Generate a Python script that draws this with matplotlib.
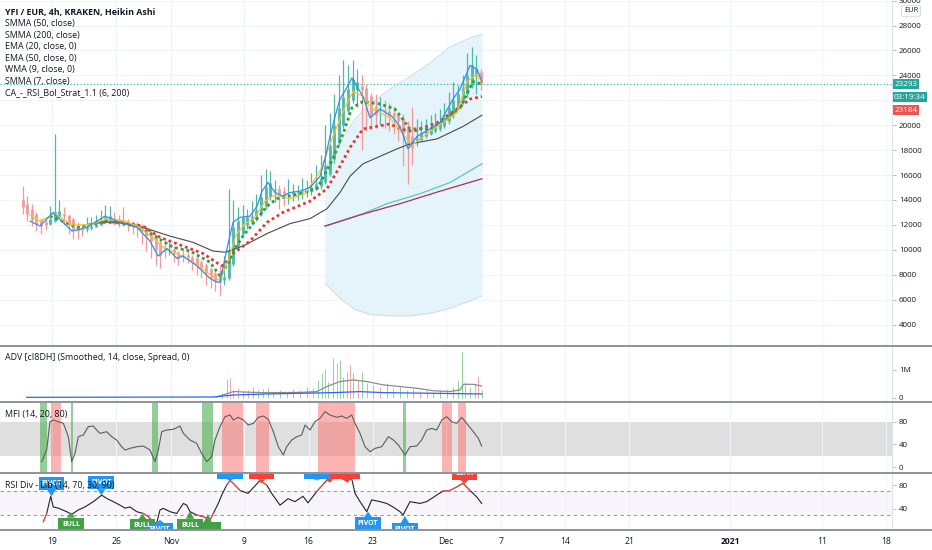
import numpy as np
import matplotlib
matplotlib.use("Agg")
import matplotlib.pyplot as plt
from matplotlib.patches import Rectangle, Polygon
from matplotlib.lines import Line2D

plt.rcParams['font.family'] = ['Open Sans', 'DejaVu Sans']

# ---------------- data (time = days since 19 Oct 2020) ----------------
date_ticks = [0, 7, 13, 21, 28, 35, 43, 49, 56, 63, 74, 84, 91]
date_labels = ["19", "26", "Nov", "9", "16", "23", "Dec", "7", "14", "21", "2021", "11", "18"]

# Heikin Ashi candles, 12h sampling starting 15 Oct 19:12
ha_open = [14000, 13700, 13300, 12850, 12500, 12200, 12100, 12300, 12650, 12900,
           12800, 12450, 12000, 11750, 11700, 11750, 11850, 12000, 12200, 12400,
           12550, 12500, 12400, 12350, 12200, 12050, 11900, 11700, 11400, 11050,
           10600, 10050, 10000, 10050, 9850, 9600, 9550, 9450, 9300, 9050,
           8800, 8450, 8100, 7800, 7600, 7700, 8850, 10300, 11300, 11950,
           12250, 12450, 12850, 13500, 14250, 14800, 14850, 14700, 14500, 14500,
           14550, 14600, 14650, 14700, 14850, 15100, 15450, 16100, 17250, 18600,
           20000, 21150, 22000, 22850, 23150, 23000, 22350, 21550, 21200, 21200,
           21150, 21000, 20850, 20550, 19950, 19150, 18700, 18850, 19100, 19300,
           19500, 19700, 19950, 20300, 20850, 21400, 21950, 22500, 23250, 24000,
           24250]
ha_close = [13400, 12900, 12400, 12100, 11900, 12000, 12500, 13000, 13100, 12700,
            12100, 11600, 11500, 11600, 11800, 11900, 12100, 12400, 12600, 12700,
            12500, 12300, 12300, 12100, 11900, 11800, 11500, 11100, 10700, 10100,
            9500, 9900, 10100, 9700, 9300, 9500, 9400, 9100, 8800, 8500,
            8100, 7700, 7500, 7400, 7800, 10000, 11800, 12300, 12600, 12600,
            12700, 13200, 14200, 15000, 15400, 14900, 14500, 14300, 14500, 14600,
            14600, 14700, 14800, 15000, 15300, 15800, 16800, 18400, 20000, 21400,
            22300, 22900, 23700, 23500, 22800, 21700, 20700, 20800, 21200, 21100,
            20900, 20700, 20300, 19400, 18300, 18200, 19000, 19400, 19500, 19700,
            19900, 20200, 20600, 21400, 22000, 22500, 23000, 24000, 24800, 24500,
            23300]
ha_high = [15100, 14300, 13700, 13000, 12500, 12500, 13500, 19300, 14000, 13400,
           12800, 12600, 12200, 12000, 12600, 12600, 12800, 13200, 13600, 13500,
           13000, 12800, 13400, 12500, 12300, 12200, 12100, 11900, 11600, 11200,
           10800, 10600, 10600, 10300, 9900, 10100, 9900, 9600, 9500, 9200,
           8900, 8600, 8300, 8800, 9500, 14900, 14000, 13400, 13600, 13300,
           13900, 14500, 16000, 16500, 16300, 15600, 15200, 15000, 15700, 15300,
           15200, 15800, 15600, 16200, 16800, 17600, 20000, 21000, 22500, 24000,
           25200, 24800, 25200, 24500, 24000, 23300, 22600, 22500, 22300, 22000,
           21800, 21500, 21000, 20900, 20300, 21500, 20500, 20300, 20500, 20800,
           21000, 21300, 21800, 22700, 23500, 23200, 24000, 25800, 26300, 25600,
           24500]
ha_low = [12900, 12300, 11900, 11500, 11300, 11600, 12000, 12200, 12600, 12000,
          11300, 10900, 10900, 11100, 11400, 11600, 11800, 12000, 12200, 12300,
          12000, 11800, 11900, 11500, 11300, 11000, 10500, 9900, 9300, 8800,
          8500, 9300, 9600, 9000, 8800, 9000, 8900, 8400, 8000, 7700,
          7200, 6900, 6700, 6400, 7200, 7600, 8700, 10200, 11200, 11700,
          12000, 12300, 12700, 13300, 14000, 13800, 13300, 13500, 13700, 13900,
          14000, 14100, 14200, 14400, 14800, 14900, 15300, 15900, 17000, 18400,
          19800, 20900, 21800, 21500, 18000, 19500, 19600, 19800, 20000, 19800,
          19500, 19300, 18700, 16700, 15300, 16800, 18300, 18800, 19000, 19200,
          19400, 19500, 19800, 20100, 20600, 21200, 21700, 22300, 23000, 22500,
          22800]

wma_t = [-2.40, -1.31, 0.11, 2.18, 3.82, 5.78, 7.42, 9.27, 10.69, 11.57, 12.55, 13.64, 14.29,
         15.82, 17.24, 18.00, 18.33, 19.09, 19.75, 20.51, 21.60, 22.37, 22.91, 23.57, 24.33,
         25.20, 25.97, 27.06, 28.15, 29.24, 29.79, 30.33, 30.88, 31.42, 32.08, 32.73, 33.93,
         34.70, 35.79, 37.10, 37.97, 38.84, 39.82, 41.24, 42.33, 43.75, 44.52, 45.61, 46.37, 46.91]
wma_v = [12300, 11900, 13000, 11500, 11800, 12700, 12200, 11800, 10700, 9500, 10100, 9300, 9500,
         8700, 7700, 7400, 7400, 10100, 12200, 12600, 12700, 13500, 14700, 15400, 14600,
         14300, 14600, 14700, 15000, 15900, 17300, 19100, 20700, 22100, 22900, 23800, 22300,
         20600, 21300, 20700, 19900, 18100, 19100, 19700, 20200, 22100, 22900, 24800, 24500, 23500]

smma7_t = [-2.40, -1.31, 0.33, 2.18, 4.15, 6.00, 7.96, 9.60, 11.24, 12.33, 13.97, 15.60, 17.24,
           18.33, 19.20, 20.08, 21.06, 22.15, 23.24, 24.33, 25.97, 27.60, 29.24, 30.55, 31.75,
           32.84, 33.93, 35.02, 36.88, 38.74, 39.29, 41.24, 44.19, 45.28, 46.37, 46.91]
smma7_v = [12800, 12300, 12900, 12000, 12000, 12500, 12300, 11800, 10800, 10100, 9600, 8900, 8000,
           7500, 9100, 11200, 12100, 12600, 13900, 14400, 14100, 14500, 16300, 18900, 21100,
           22700, 22300, 21300, 20600, 18900, 18400, 19500, 21000, 23500, 24100, 23400]

ema20_t = [-0.22, 2.73, 6.00, 9.27, 11.46, 13.20, 15.06, 17.24, 18.33, 19.20, 19.97, 20.84,
           22.15, 23.46, 24.55, 27.06, 28.91, 30.66, 31.75, 32.73, 33.93, 35.79, 37.42, 39.06,
           41.24, 43.10, 44.52, 45.94, 46.91]
ema20_v = [12700, 11800, 12300, 11900, 11000, 10200, 9900, 9000, 7900, 8900, 10100, 11100,
           12300, 13500, 14100, 14500, 14900, 17300, 19300, 21400, 21900, 21700, 21300, 19700,
           19700, 20500, 21400, 23500, 23300]

ema50_t = [4.91, 7.42, 9.93, 11.78, 14.29, 16.48, 18.11, 18.66, 19.75, 21.60, 23.46, 25.20,
           28.15, 30.01, 31.42, 32.51, 33.93, 36.88, 37.97, 39.39, 42.01, 44.19, 45.61, 46.91]
ema50_v = [12200, 12200, 11900, 11000, 10300, 9700, 8900, 8700, 9700, 10700, 12200, 13000,
           13900, 14900, 16700, 18200, 19700, 20100, 19700, 19500, 20200, 21300, 22100, 22300]

smma50_t = [4.91, 7.42, 9.93, 12.87, 15.38, 17.57, 18.88, 20.84, 23.46, 25.97, 28.15, 30.01,
            31.42, 32.51, 33.93, 37.64, 39.06, 42.01, 44.85, 46.91]
smma50_v = [12200, 12200, 11800, 11100, 10600, 9900, 9800, 10300, 11300, 12100, 12500, 13300,
            14600, 15900, 16900, 18100, 18500, 18900, 19900, 20800]

band_t = [29.79, 31.42, 33.06, 34.70, 36.88, 39.06, 41.24, 43.43, 45.61, 46.91]
band_upper = [16500, 18600, 20500, 21700, 22900, 23900, 25000, 26300, 27000, 27300]
band_lower = [7300, 6100, 5200, 4800, 4700, 4700, 4900, 5300, 5900, 6300]
basis_t = [29.79, 33.61, 37.97, 42.33, 46.91]
basis_v = [11900, 12800, 13700, 14700, 15700]
fast_t = [29.79, 33.61, 36.55, 40.15, 43.43, 46.91]
fast_v = [11900, 12800, 13700, 14500, 15400, 16900]

last_price = 23293

adv_t = [18.51, 19.06, 19.42, 19.79, 20.33, 20.88, 21.42, 21.97, 22.51, 23.06,
         23.60, 24.15, 24.88, 25.61, 26.33, 27.06, 27.79, 28.51, 29.06, 29.42,
         29.79, 30.15, 30.70, 31.06, 31.42, 31.79, 32.15, 32.52, 32.88, 33.43,
         33.79, 34.33, 35.06, 35.79, 36.52, 37.24, 37.97, 38.70, 39.42, 40.15,
         40.88, 41.61, 42.33, 43.06, 43.79, 44.33, 44.70, 45.06, 45.61, 46.15,
         46.52, 46.88]
adv_v = [0.16, 0.66, 0.70, 0.28, 0.34, 0.22, 0.28, 0.40, 0.28, 0.30,
         0.34, 0.25, 0.28, 0.22, 0.30, 0.28, 0.40, 0.34, 0.64, 0.88,
         1.02, 0.58, 1.42, 1.24, 1.34, 0.76, 0.94, 1.18, 0.88, 0.64,
         0.94, 0.52, 0.46, 0.40, 0.52, 0.34, 0.40, 0.28, 0.30, 0.25,
         0.28, 0.22, 0.28, 0.30, 0.40, 0.64, 1.66, 0.58, 0.40, 0.52,
         0.78, 0.28]
adv_up = [1, 1, 0, 1, 0, 1, 0, 1, 1, 0, 1, 0, 1, 0, 1, 0, 1, 0, 1, 1,
          0, 1, 1, 0, 1, 0, 1, 0, 1, 0, 1, 0, 1, 0, 1, 0, 1, 0, 1, 0,
          1, 0, 1, 0, 1, 1, 1, 0, 1, 0, 0, 1]
adv_avg_t = [17.9, 18.69, 19.79, 21.97, 23.42, 27.06, 28.88, 29.97, 31.42, 32.88, 34.33,
             36.15, 37.97, 39.79, 41.61, 43.43, 44.52, 44.88, 45.97, 46.88]
adv_avg_v = [0.02, 0.10, 0.22, 0.19, 0.18, 0.19, 0.22, 0.40, 0.58, 0.64, 0.58,
             0.46, 0.40, 0.34, 0.25, 0.22, 0.28, 0.48, 0.48, 0.42]
adv_sig_t = [-2.76, 17.6, 19.79, 23.42, 30.70, 33.61, 36.15, 41.61, 46.88]
adv_sig_v = [0.013, 0.025, 0.097, 0.134, 0.182, 0.218, 0.182, 0.158, 0.134]

mfi_t = [-1.13, -0.58, -0.22, 0.15, 0.69, 1.24, 1.78, 2.15, 2.51, 2.87,
         3.42, 3.96, 4.51, 4.87, 5.24, 5.96, 6.51, 7.06, 7.60, 7.97,
         8.51, 9.24, 9.97, 10.69, 11.24, 11.60, 11.97, 12.51, 13.24, 13.97,
         14.33, 15.06, 15.78, 16.33, 16.88, 17.42, 17.78, 18.33, 18.88, 19.42,
         19.78, 20.33, 20.88, 21.42, 21.97, 22.51, 23.06, 23.60, 24.15, 24.69,
         25.24, 25.60, 26.15, 26.70, 27.24, 27.61, 28.15, 28.70, 29.24, 29.79,
         30.33, 31.06, 31.61, 32.15, 32.70, 33.06, 33.61, 34.15, 34.70, 35.24,
         35.97, 36.70, 37.24, 37.79, 38.52, 39.06, 39.79, 40.33, 40.88, 41.43,
         41.97, 42.52, 43.06, 43.61, 44.15, 44.70, 45.24, 45.97, 46.52, 46.88]
mfi_v = [9.4, 30, 79.9, 82.8, 79.9, 77, 53.4, 9.4, 24.1, 53.4,
         56.4, 71.1, 72.2, 65.2, 59.3, 62.3, 53.4, 47.6, 35.8, 30,
         32.9, 35.8, 37, 30, 9.4, 30, 62.3, 65.2, 66.4, 72.2,
         59.3, 47.6, 41.7, 24.1, 9.4, 18.2, 47.6, 71.1, 88.7, 91.6,
         82.8, 87.5, 82.8, 74, 77, 87.5, 89.9, 84, 62.3, 35.8,
         21.1, 35.8, 47.6, 53.4, 56.4, 74, 65.2, 79.9, 85.8, 97.5,
         91.6, 87.5, 89.9, 85.8, 91.6, 77, 59.3, 35.8, 27, 32.9,
         35.8, 53.4, 47.6, 38.8, 21.1, 35.8, 37, 47.6, 65.2, 68.1,
         65.2, 82.8, 88.7, 79.9, 77, 87.5, 77, 62.3, 50.5, 37]
mfi_oversold = [(-1.31, -0.51), (2.07, 2.32), (10.88, 11.60), (16.40, 17.60), (38.27, 38.63)]
mfi_overbought = [(-0.14, 0.98), (18.58, 20.87), (22.26, 23.71), (28.99, 33.06),
                  (42.52, 43.07), (43.13, 43.61), (44.33, 45.17)]

rsi_t = [-0.95, -0.58, -0.14, 0.14, 0.69, 1.60, 2.15, 2.87, 3.60, 4.51, 5.42, 5.97, 6.69,
         7.42, 7.97, 8.51, 9.24, 9.96, 10.51, 11.05, 11.42, 11.78, 12.14, 12.88, 13.61,
         14.33, 14.70, 15.06, 15.79, 16.51, 17.24, 17.60, 18.14, 18.52, 19.06, 19.42, 19.78,
         20.33, 20.51, 21.39, 22.70, 23.43, 23.97, 24.88, 25.75, 26.51, 27.39, 27.93, 28.88,
         29.97, 31.06, 32.15, 32.70, 33.06, 33.61, 34.34, 34.88, 35.79, 36.52, 37.21, 37.97,
         38.30, 39.06, 40.15, 40.88, 41.97, 42.66, 43.43, 44.16, 44.84, 45.61, 46.34, 46.88]
rsi_v = [18, 32, 61, 43, 41, 35, 30.5, 38, 43, 52, 63, 57.5, 52,
         46, 41, 43, 35, 32, 26.5, 18, 15.4, 38, 40.6, 35, 32,
         49, 46, 35, 29.4, 26.5, 21, 32, 49, 63, 80, 88, 83,
         74, 71, 66, 88, 80, 66, 46, 57, 52, 61, 50, 69,
         88, 94, 88, 91, 66, 52, 35, 55, 52, 49, 43, 35,
         29.4, 52, 49, 52, 63, 70, 71, 77, 83, 71, 60, 49]

# RSI divergence labels: time, box centre, arrow tip, text, kind
lab_t = [-0.06, 5.38, 2.07, 9.87, 11.78, 15.06, 17.0, 19.42, 22.86, 30.3, 32.2, 28.9, 34.48, 38.5, 45.0]
lab_v = [83, 84, 14, 11, 5, 12, 6, 102, 101, 101, 101, 101, 14.6, 4.7, 100]
lab_tip = [61, 63, 34, 31, 21, 36, 31, 87, 83, 84, 84, 88, 35, 28, 82]
lab_text = ["PIVOT", "PIVOT", "BULL", "BULL", "PIVOT", "BULL", "", "PIVOT", "BEAR",
            "BEAR", "", "BEAR", "PIVOT", "PIVOT", "BEAR"]
lab_kind = ["pivot", "pivot", "bull", "bull", "pivot", "bull", "bull", "pivot", "bear",
            "bear", "bear", "pivot", "pivot", "pivot", "bear"]

# ---------------- figure ----------------
W, H = 932, 550
fig = plt.figure(figsize=(W / 100, H / 100), dpi=100)
fig.patch.set_facecolor('white')


def fy(py):
    return 1 - py / H


X_RIGHT = 892
XLIM = (-5.674, 91.65)
panels_px = [(0, 345.7), (345.7, 402.3), (402.3, 473.3), (473.3, 530)]
axes = []
for top, bot in panels_px:
    a = fig.add_axes([0, fy(bot), X_RIGHT / W, (bot - top) / H])
    a.set_xlim(*XLIM)
    a.set_xticks(date_ticks)
    a.set_axisbelow(True)
    a.grid(axis='x', color='#f0f3fa', lw=0.8)
    for s in a.spines.values():
        s.set_visible(False)
    a.yaxis.tick_right()
    a.tick_params(axis='y', length=3, width=0.6, color='#b2b5be', labelsize=5.8,
                  labelcolor='#131722', pad=2)
    a.tick_params(axis='x', length=0, labelbottom=False)
    axes.append(a)
ax_p, ax_v, ax_m, ax_r = axes

TXT = '#131722'
UP = '#4fb8ab'
DN = '#f29a9a'

# ---- main price panel ----
price_ticks = list(range(4000, 30001, 2000))
ax_p.set_ylim(2300, 30050)
ax_p.set_yticks(price_ticks)
# the 22000 label sits behind the price tags in the reference
ax_p.set_yticklabels(['' if v == 22000 else str(v) for v in price_ticks])
ax_p.grid(axis='y', color='#f0f3fa', lw=0.8)

ax_p.fill_between(band_t, band_lower, band_upper, color='#e4f4fa', lw=0, zorder=1)
ax_p.plot(band_t, band_upper, color='#cfe0e7', lw=0.8, zorder=1.5)
ax_p.plot(band_t, band_lower, color='#cfe0e7', lw=0.8, zorder=1.5)
ax_p.plot(fast_t, fast_v, color='#5cc6c0', lw=0.9, zorder=2)
ax_p.plot(basis_t, basis_v, color='#b0304f', lw=0.9, zorder=2.1)

o = np.array(ha_open); c = np.array(ha_close); hi = np.array(ha_high); lo = np.array(ha_low)
ha_t = np.arange(len(c)) * 0.5 - 3.2
cols = [UP if cc >= oo else DN for oo, cc in zip(o, c)]
ax_p.vlines(ha_t, lo, hi, colors=cols, lw=0.9, zorder=3)
ax_p.vlines(ha_t, np.minimum(o, c), np.maximum(o, c), colors=cols, lw=2.0, zorder=3)

ax_p.plot(smma50_t, smma50_v, color='#4a4a4a', lw=0.8, zorder=4)
ax_p.plot(ema50_t, ema50_v, color='#e53935', lw=2.0, ls=(0, (1, 1.1)), zorder=4)
ax_p.plot(ema20_t, ema20_v, color='#2e9e3e', lw=2.0, ls=(0, (1, 1.1)), zorder=4.1)
ax_p.plot(smma7_t, smma7_v, color='#fbc02d', lw=0.9, zorder=4.2)
ax_p.plot(wma_t, wma_v, color='#2f8ff0', lw=0.9, zorder=4.3)
ax_p.axhline(last_price, color='#26a69a', lw=0.8, ls=(0, (1, 2)), zorder=4.5)

tag_kw = dict(xycoords=('axes fraction', 'data'), textcoords='offset points', ha='left',
              va='center', color='white', fontsize=5.8, annotation_clip=False, zorder=8)
ax_p.annotate(str(last_price), xy=(1, last_price), xytext=(1.5, 0),
              bbox=dict(boxstyle='square,pad=0.2', fc='#26a69a', ec='none'), **tag_kw)
ax_p.annotate('03:19:34', xy=(1, last_price), xytext=(1.5, -9.3),
              bbox=dict(boxstyle='square,pad=0.2', fc='#26a69a', ec='none'), **tag_kw)
ax_p.annotate('23184', xy=(1, last_price), xytext=(1.5, -18.6),
              bbox=dict(boxstyle='square,pad=0.2', fc='#ef5350', ec='none'), **tag_kw)
fig.text(911 / W, fy(11), 'EUR', ha='center', va='center', fontsize=5.4, color=TXT,
         bbox=dict(boxstyle='round,pad=0.3', fc='white', ec='#d1d4dc', lw=0.6))

# ---- ADV panel ----
ax_v.set_ylim(-0.166, 1.87)
ax_v.set_yticks([0, 1])
ax_v.set_yticklabels(['0', '1M'])
ax_v.vlines(adv_t, 0, adv_v, colors=['#8fd19e' if u else '#f4a6a6' for u in adv_up], lw=0.7)
ax_v.plot(adv_avg_t, adv_avg_v, color='#8c8c8c', lw=0.9)
ax_v.plot(adv_sig_t, adv_sig_v, color='#2962ff', lw=0.9)

# ---- MFI panel ----
ax_m.set_ylim(-11, 114)
ax_m.set_yticks([0, 40, 80])
ax_m.fill_between(XLIM, 20, 80, color='#b8b8b8', alpha=0.45, lw=0, zorder=0.5)
for a0, a1 in mfi_oversold:
    ax_m.axvspan(a0, a1, color='#4caf50', alpha=0.6, lw=0, zorder=1)
for a0, a1 in mfi_overbought:
    ax_m.axvspan(a0, a1, color='#ff6b6b', alpha=0.5, lw=0, zorder=1)
ax_m.plot(mfi_t, mfi_v, color='#5d5d5d', lw=0.8, zorder=2)

# ---- RSI panel ----
ax_r.set_ylim(4, 100)
ax_r.set_yticks([40, 80])
ax_r.fill_between(XLIM, 30, 70, color='#9575cd', alpha=0.06, lw=0, zorder=0.5)
ax_r.axhline(70, color='#9a9a9a', lw=0.8, ls=(0, (3, 3)), zorder=0.6)
ax_r.axhline(30, color='#9a9a9a', lw=0.8, ls=(0, (3, 3)), zorder=0.6)
rv = np.array(rsi_v)
ax_r.plot(rsi_t, rv, color='#222222', lw=0.8, zorder=2)
ax_r.plot(rsi_t, np.ma.masked_where((rv < 68) & (rv > 32), rv), color='#ff5252', lw=0.8, zorder=2.1)

kind_col = {'pivot': '#2196f3', 'bull': '#43a047', 'bear': '#f44336'}
bw, bh, aw = 2.8, 22, 0.45
for t, vc, tip, txt, k in zip(lab_t, lab_v, lab_tip, lab_text, lab_kind):
    col = kind_col[k]
    ax_r.add_patch(Rectangle((t - bw / 2, vc - bh / 2), bw, bh, fc=col, ec='none', zorder=5))
    edge = vc - bh / 2 if tip < vc else vc + bh / 2
    ax_r.add_patch(Polygon([(t - aw, edge), (t + aw, edge), (t, tip)], closed=True,
                           fc=col, ec='none', zorder=5))
    if txt:
        ax_r.text(t, vc, txt, ha='center', va='center', fontsize=5, color='white',
                  fontweight='bold', clip_on=True, zorder=6)

# bottom date axis
ax_r.tick_params(axis='x', labelbottom=True, labelsize=6.2, labelcolor=TXT, pad=5)
ax_r.set_xticklabels(date_labels)
for lab in ax_r.get_xticklabels():
    if lab.get_text() == '2021':
        lab.set_fontweight('bold')

# ---- frame lines ----
fig.add_artist(Line2D([X_RIGHT / W] * 2, [fy(0), fy(530)], color='#e0e3eb', lw=0.8))
for yy in [345.7, 402.3, 473.3, 530]:
    fig.add_artist(Line2D([0, 1], [fy(yy)] * 2, color='#8f929b', lw=1.4))

# ---- legends ----
fig.text(5 / W, fy(12.7), 'YFI / EUR, 4h, KRAKEN, Heikin Ashi', fontsize=6.4,
         fontweight='bold', color=TXT, va='center')
legend_lines = ['SMMA (50, close)', 'SMMA (200, close)', 'EMA (20, close, 0)', 'EMA (50, close, 0)',
                'WMA (9, close, 0)', 'SMMA (7, close)', 'CA_-_RSI_Bol_Strat_1.1 (6, 200)']
for i, s in enumerate(legend_lines):
    fig.text(5 / W, fy(23.9 + i * 11.5), s, fontsize=6.4, color=TXT, va='center')
fig.text(5 / W, fy(357.7), 'ADV [cI8DH] (Smoothed, 14, close, Spread, 0)', fontsize=6.4, color=TXT, va='center')
fig.text(5 / W, fy(415), 'MFI (14, 20, 80)', fontsize=6.4, color=TXT, va='center')
fig.text(5 / W, fy(485.7), 'RSI Div - Lib (14, 70, 30, 90)', fontsize=6.4, color=TXT, va='center', zorder=10)

fig.savefig('out.png', dpi=100, facecolor='white')
